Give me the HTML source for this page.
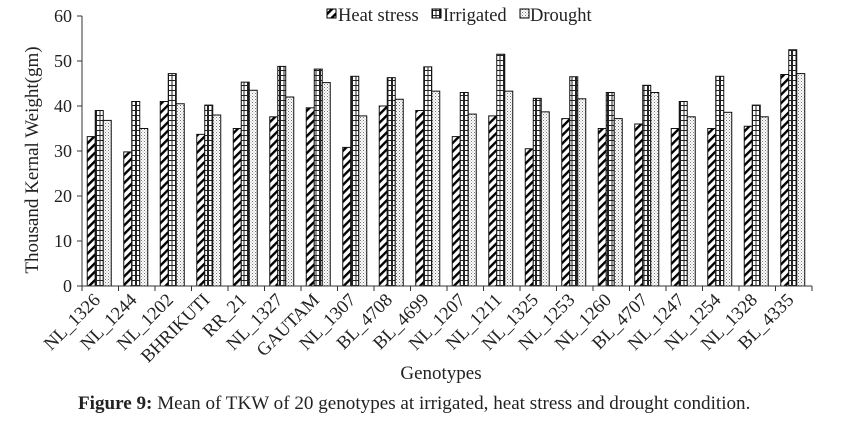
<!DOCTYPE html>
<html><head><meta charset="utf-8"><style>
body{margin:0;background:#fff;}
svg text{font-family:"Liberation Serif",serif;fill:#222;}
</style></head><body>
<svg id="chart" width="845" height="420" xmlns="http://www.w3.org/2000/svg">
<defs>
<pattern id="pHeat" patternUnits="userSpaceOnUse" width="6" height="6" patternTransform="rotate(45)">
<rect width="6" height="6" fill="#fff"/><rect width="2.4" height="6" fill="#000"/></pattern>
<pattern id="pIrr" patternUnits="userSpaceOnUse" width="8" height="5">
<rect width="8" height="5" fill="#fff"/><rect y="0" width="8" height="1" fill="#222"/><rect x="0" width="1" height="5" fill="#222"/><rect x="7" width="1" height="5" fill="#222"/><rect x="3.5" width="1" height="5" fill="#222"/></pattern>
<pattern id="pDro" patternUnits="userSpaceOnUse" width="3" height="3">
<rect width="3" height="3" fill="#fff"/><rect width="1" height="1" fill="#777"/><rect x="1.5" y="1.5" width="1" height="1" fill="#999"/></pattern>
</defs>
<g id="bars"></g>
<g id="axes"></g>
<g>
<rect x="327" y="9" width="9" height="9" fill="url(#pHeat)" stroke="#000"/>
<text x="338" y="21" font-size="18.5">Heat stress</text>
<rect x="432" y="9" width="9" height="9" fill="url(#pIrr)" stroke="#000"/>
<text x="443" y="21" font-size="18.5">Irrigated</text>
<rect x="520" y="9" width="9" height="9" fill="url(#pDro)" stroke="#000"/>
<text x="530" y="21" font-size="18.5">Drought</text>
</g>
<text transform="translate(38,160) rotate(-90)" text-anchor="middle" font-size="19">Thousand Kernal Weight(gm)</text>
<text x="441" y="379" text-anchor="middle" font-size="19">Genotypes</text>
<text x="78" y="409" font-size="19.1"><tspan font-weight="bold">Figure 9:</tspan> Mean of TKW of 20 genotypes at irrigated, heat stress and drought condition.</text>
</svg>
<script>
const categories=["NL_1326","NL_1244","NL_1202","BHRIKUTI","RR_21","NL_1327","GAUTAM","NL_1307","BL_4708","BL_4699","NL_1207","NL_1211","NL_1325","NL_1253","NL_1260","BL_4707","NL_1247","NL_1254","NL_1328","BL_4335"];
const heatStress=[33.2,29.8,41,33.7,35,37.6,39.6,30.8,40,39,33.2,37.8,30.5,37.2,35,36,35,35,35.5,47];
const irrigated=[39,41,47.2,40.2,45.3,48.8,48.2,46.6,46.3,48.7,43,51.5,41.7,46.5,43,44.6,41,46.6,40.2,52.5];
const drought=[36.8,35,40.5,38,43.5,42,45.2,37.8,41.5,43.3,38.2,43.3,38.7,41.6,37.2,43,37.6,38.6,37.6,47.2];
const yTicks=[0,10,20,30,40,50,60];
const NS="http://www.w3.org/2000/svg";
const x0=82,x1=812,y0=286,yTop=16,yMax=60;
const cw=(x1-x0)/categories.length;
const yS=v=>y0-(v/yMax)*(y0-yTop);
const xS=i=>x0+i*cw;
const bars=document.getElementById('bars'),axes=document.getElementById('axes');
function mk(tag,attrs,parent){const e=document.createElementNS(NS,tag);for(const k in attrs)e.setAttribute(k,attrs[k]);parent.appendChild(e);return e;}
const series=[[heatStress,'url(#pHeat)','heat'],[irrigated,'url(#pIrr)','irrigated'],[drought,'url(#pDro)','drought']];
const bw=8;
categories.forEach((c,i)=>{
  const cx=xS(i)+cw/2-1;
  series.forEach((s,j)=>{
    const v=s[0][i];
    const r=mk('rect',{x:cx-1.5*bw+j*bw,y:yS(v),width:bw,height:y0-yS(v),fill:s[1],stroke:'#111','stroke-width':1},bars);
    
    
  });
  const t=mk('text',{x:cx+2,y:301,'text-anchor':'end','font-size':18.5,transform:`rotate(-45 ${cx+2} 301)`},axes);
  t.textContent=c;
  
  
});
mk('line',{x1:x0,y1:yTop,x2:x0,y2:y0,stroke:'#333','stroke-width':1},axes);
mk('line',{x1:x0,y1:y0,x2:x1,y2:y0,stroke:'#333','stroke-width':1},axes);
for(let i=0;i<=categories.length;i++)mk('line',{x1:xS(i),y1:y0,x2:xS(i),y2:y0+5,stroke:'#333'},axes);
yTicks.forEach(v=>{
  mk('line',{x1:x0-5,y1:yS(v),x2:x0,y2:yS(v),stroke:'#333'},axes);
  const t=mk('text',{x:x0-10,y:yS(v)+6,'text-anchor':'end','font-size':18},axes);
  t.textContent=v;
  
  
});
</script>
</body></html>
